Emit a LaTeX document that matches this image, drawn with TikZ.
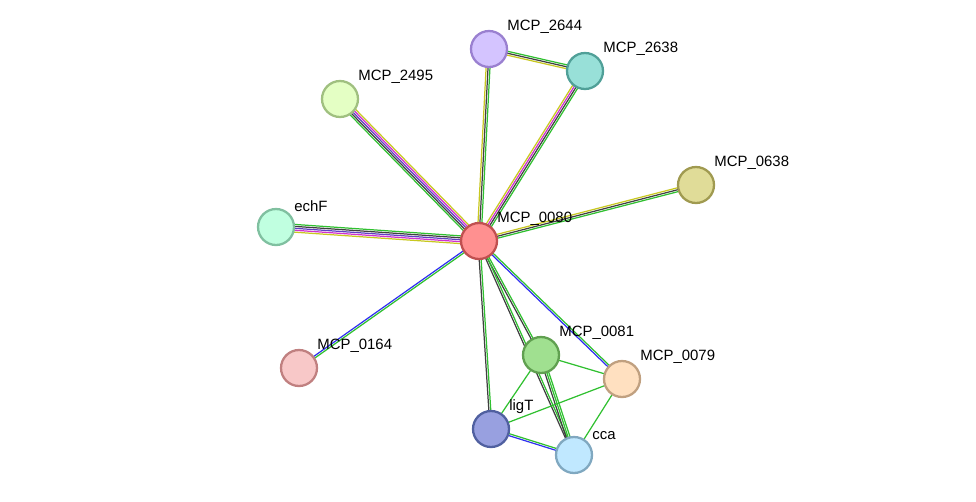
\documentclass[tikz,border=0pt]{standalone}
\usepackage{fontspec}
\setmainfont{Liberation Sans}
\usetikzlibrary{calc}
\pgfdeclarelayer{background}
\pgfsetlayers{background,main}
\definecolor{ctext}{HTML}{C8C820}
\definecolor{ccoex}{HTML}{404040}
\definecolor{cnbr}{HTML}{30C030}
\definecolor{cocc}{HTML}{3030F0}
\definecolor{cexp}{HTML}{D030D0}
\definecolor{cdb}{HTML}{6040C0}
\definecolor{f0080}{HTML}{FF9090}\definecolor{d0080}{HTML}{C05050}
\definecolor{f2644}{HTML}{D4C4FF}\definecolor{d2644}{HTML}{9A80D0}
\definecolor{f2638}{HTML}{98E0D8}\definecolor{d2638}{HTML}{50A098}
\definecolor{f2495}{HTML}{E4FFC4}\definecolor{d2495}{HTML}{A0C080}
\definecolor{f0638}{HTML}{E0DC98}\definecolor{d0638}{HTML}{A09A50}
\definecolor{fechF}{HTML}{C0FFE0}\definecolor{dechF}{HTML}{80C0A0}
\definecolor{f0164}{HTML}{F8C8C8}\definecolor{d0164}{HTML}{C08080}
\definecolor{f0081}{HTML}{A0E090}\definecolor{d0081}{HTML}{60A050}
\definecolor{f0079}{HTML}{FFE0C0}\definecolor{d0079}{HTML}{C0A080}
\definecolor{fligT}{HTML}{98A0E0}\definecolor{dligT}{HTML}{5060A0}
\definecolor{fcca}{HTML}{C0E8FF}\definecolor{dcca}{HTML}{80A8C0}
\tikzset{
  prot/.style 2 args={circle, draw=#2, fill=#1, line width=1.3pt, minimum size=0.72cm, inner sep=0pt},
  lbl/.style={anchor=south west, font=\fontsize{8.5}{10}\selectfont, inner sep=0pt},
}
% one parallel line per evidence colour
\newcommand\strlink[3]{%
  \foreach \c [count=\i] in {#3} {\xdef\nlinks{\i}}%
  \foreach \c [count=\i] in {#3} {%
    \pgfmathsetmacro\off{(\i-(\nlinks+1)/2)*1.1}%
    \draw[\c, line width=0.7pt] ($(#1)!\off pt!90:(#2)$) -- ($(#2)!\off pt!-90:(#1)$);
  }}
\begin{document}
\begin{tikzpicture}[x=0.02cm, y=-0.02cm]
  \useasboundingbox (0,0) rectangle (976,501);
  % Nodes
  \node (n0080) [prot={f0080}{d0080}] at (479,241) {};
  \node (n2644) [prot={f2644}{d2644}] at (489,49) {};
  \node (n2638) [prot={f2638}{d2638}] at (585,71) {};
  \node (n2495) [prot={f2495}{d2495}] at (340,99) {};
  \node (n0638) [prot={f0638}{d0638}] at (696,185) {};
  \node (nechF) [prot={fechF}{dechF}] at (276,227) {};
  \node (n0164) [prot={f0164}{d0164}] at (299,368) {};
  \node (n0081) [prot={f0081}{d0081}] at (541,355) {};
  \node (n0079) [prot={f0079}{d0079}] at (622,379) {};
  \node (nligT) [prot={fligT}{dligT}] at (491,429) {};
  \node (ncca) [prot={fcca}{dcca}] at (574,455) {};

  % Labels
  \node[lbl] at (497,226) {MCP\_0080};
  \node[lbl] at (507,34) {MCP\_2644};
  \node[lbl] at (603,56) {MCP\_2638};
  \node[lbl] at (358,84) {MCP\_2495};
  \node[lbl] at (714,170) {MCP\_0638};
  \node[lbl] at (294,212) {echF};
  \node[lbl] at (317,353) {MCP\_0164};
  \node[lbl] at (559,340) {MCP\_0081};
  \node[lbl] at (640,364) {MCP\_0079};
  \node[lbl] at (509,414) {ligT};
  \node[lbl] at (592,440) {cca};

  % Edges
  \begin{pgfonlayer}{background}
    \strlink{n0080}{n2644}{cnbr,ccoex,ctext}
    \strlink{n0080}{n2638}{cnbr,ccoex,cexp,ctext}
    \strlink{n0080}{n2495}{ctext,cexp,cdb,ccoex,cnbr}
    \strlink{n0080}{nechF}{cnbr,ccoex,cdb,cexp,ctext}
    \strlink{n0080}{n0638}{cnbr,ccoex,ctext}
    \strlink{n0080}{n0164}{cocc,cnbr}
    \strlink{n0080}{n0081}{ccoex,cnbr}
    \strlink{n0080}{n0079}{cocc,cnbr}
    \strlink{n0080}{nligT}{ccoex,cnbr}
    \strlink{n0080}{ncca}{ccoex,cnbr}
    \strlink{n2644}{n2638}{ctext,ccoex,cnbr}
    \strlink{n0081}{n0079}{cnbr}
    \strlink{n0081}{nligT}{cnbr}
    \strlink{n0081}{ncca}{ccoex,cnbr,cnbr}
    \strlink{n0079}{nligT}{cnbr}
    \strlink{n0079}{ncca}{cnbr}
    \strlink{nligT}{ncca}{cocc,cnbr}
  \end{pgfonlayer}
\end{tikzpicture}
\end{document}
